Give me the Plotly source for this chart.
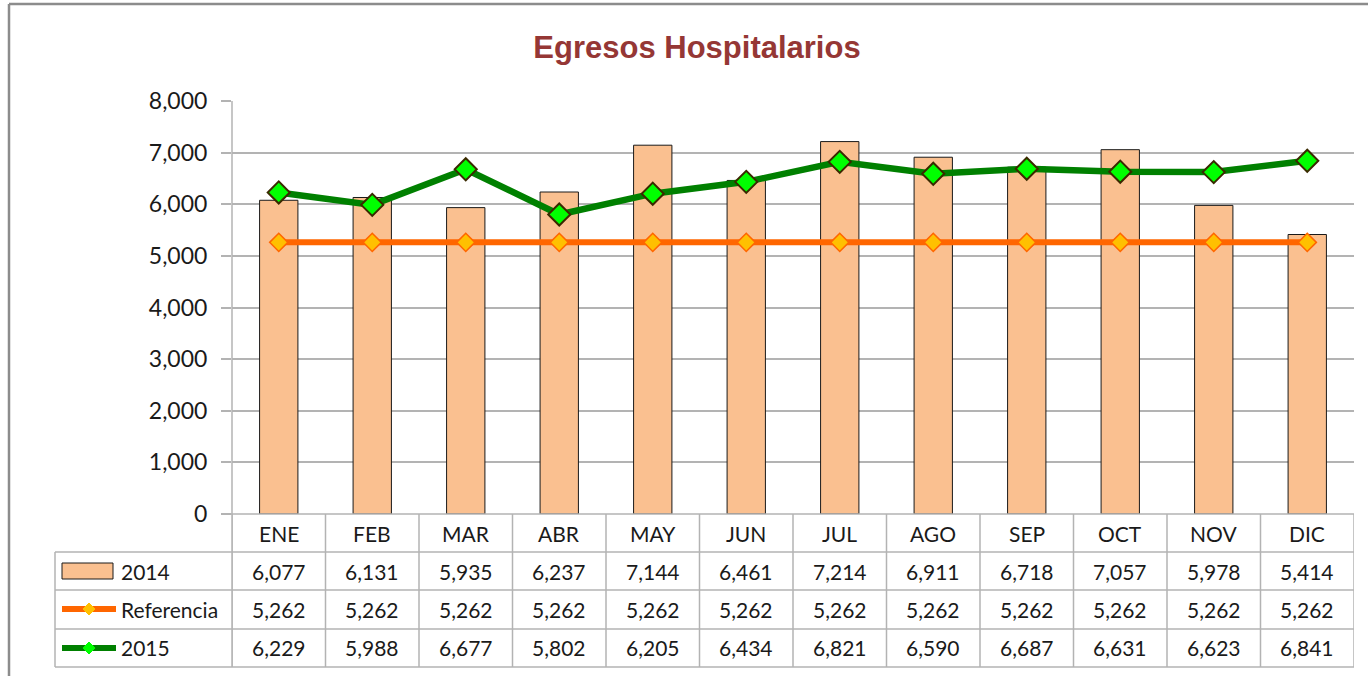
import plotly.graph_objects as go

months = ["ENE", "FEB", "MAR", "ABR", "MAY", "JUN", "JUL", "AGO", "SEP", "OCT", "NOV", "DIC"]
v2014 = [6077, 6131, 5935, 6237, 7144, 6461, 7214, 6911, 6718, 7057, 5978, 5414]
vref = [5262, 5262, 5262, 5262, 5262, 5262, 5262, 5262, 5262, 5262, 5262, 5262]
v2015 = [6229, 5988, 6677, 5802, 6205, 6434, 6821, 6590, 6687, 6631, 6623, 6841]
y_ticks = [0, 1000, 2000, 3000, 4000, 5000, 6000, 7000, 8000]
series_names = ["2014", "Referencia", "2015"]

W_FIG, H_FIG = 1368, 676
L, R, T, B = 232, 1354, 101, 514
PW, PH = R - L, B - T


def px(p):
    return (p - L) / PW


def py(p):
    return (B - p) / PH


FONT = "Lato, Calibri, Carlito, sans-serif"
GRID = "#b3b3b3"
TXT = "#1a1a1a"
BAR_FILL = "#FAC090"
ORANGE = "#FF6600"
GOLD = "#FFC000"
GREEN = "#008000"
LIME = "#00FF00"

fig = go.Figure()
fig.add_trace(go.Bar(x=months, y=v2014, name=series_names[0], width=0.41,
                     marker=dict(color=BAR_FILL, line=dict(color=TXT, width=1))))
fig.add_trace(go.Scatter(x=months, y=vref, name=series_names[1], mode="lines+markers",
                         line=dict(color=ORANGE, width=6),
                         marker=dict(symbol="diamond", size=14, color=GOLD,
                                     line=dict(color=ORANGE, width=1.5))))
fig.add_trace(go.Scatter(x=months, y=v2015, name=series_names[2], mode="lines+markers",
                         line=dict(color=GREEN, width=6.5),
                         marker=dict(symbol="diamond", size=17, color=LIME,
                                     line=dict(color="#3a2a00", width=2))))

shapes = []
annotations = []

# outer chart border
shapes.append(dict(type="line", xref="paper", yref="paper", x0=px(9), x1=px(1368), y0=py(4), y1=py(4),
                   line=dict(color="#8c8c8c", width=2.5)))
shapes.append(dict(type="line", xref="paper", yref="paper", x0=px(9), x1=px(9), y0=py(4), y1=py(676),
                   line=dict(color="#8c8c8c", width=2.5)))

# y axis line through the table
shapes.append(dict(type="line", xref="paper", yref="paper", x0=0, x1=0, y0=py(T), y1=py(667),
                   line=dict(color=GRID, width=1.5)))
# table horizontal lines
shapes.append(dict(type="line", xref="paper", yref="paper", x0=px(222), x1=1, y0=0, y1=0,
                   line=dict(color=GRID, width=1.5)))
for yy in [552, 590, 629, 667]:
    shapes.append(dict(type="line", xref="paper", yref="paper", x0=px(55), x1=1, y0=py(yy), y1=py(yy),
                       line=dict(color=GRID, width=1.5)))
# table vertical lines
shapes.append(dict(type="line", xref="paper", yref="paper", x0=px(55), x1=px(55), y0=py(552), y1=py(667),
                   line=dict(color=GRID, width=1.5)))
for i in range(len(months) + 1):
    shapes.append(dict(type="line", xref="x", yref="paper", x0=i - 0.5, x1=i - 0.5, y0=0, y1=py(667),
                       line=dict(color=GRID, width=1.5)))

# month headers and values
row_y = [571, 609, 647]
for i, m in enumerate(months):
    annotations.append(dict(x=m, xref="x", y=py(533), yref="paper", text=m, showarrow=False,
                            xanchor="center", yanchor="middle",
                            font=dict(family=FONT, size=21, color=TXT)))
    for vals, yy in zip([v2014, vref, v2015], row_y):
        annotations.append(dict(x=m, xref="x", y=py(yy), yref="paper", text=f"{vals[i]:,}",
                                showarrow=False, xanchor="center", yanchor="middle",
                                font=dict(family=FONT, size=21, color=TXT)))

# legend keys in table
shapes.append(dict(type="rect", xref="paper", yref="paper", x0=px(62), x1=px(113), y0=py(563), y1=py(579),
                   fillcolor=BAR_FILL, line=dict(color=TXT, width=1)))
for color, fill, yy in [(ORANGE, GOLD, 609), (GREEN, LIME, 648)]:
    shapes.append(dict(type="line", xref="paper", yref="paper", x0=px(62), x1=px(116), y0=py(yy), y1=py(yy),
                       line=dict(color=color, width=6)))
    cx, cy, r = 89, yy, 6
    path = (f"M {px(cx - r)} {py(cy)} L {px(cx)} {py(cy - r)} L {px(cx + r)} {py(cy)} "
            f"L {px(cx)} {py(cy + r)} Z")
    shapes.append(dict(type="path", xref="paper", yref="paper", path=path, fillcolor=fill,
                       line=dict(color=fill, width=1)))
for name, yy in zip(series_names, row_y):
    annotations.append(dict(x=px(119), xref="paper", y=py(yy), yref="paper", text=name, showarrow=False,
                            xanchor="left", yanchor="middle", font=dict(family=FONT, size=21, color=TXT)))

fig.update_layout(
    width=W_FIG, height=H_FIG,
    margin=dict(l=L, r=W_FIG - R, t=T, b=H_FIG - B, pad=0),
    paper_bgcolor="white", plot_bgcolor="white",
    showlegend=False, hovermode=False,
    title=dict(text="<b>Egresos Hospitalarios</b>", x=px(697), xref="paper", y=1 - 47 / H_FIG,
               yanchor="middle", xanchor="center",
               font=dict(family="Liberation Sans Narrow, Arial Narrow, Liberation Sans, sans-serif",
                         size=31, color="#953735")),
    bargap=0.59,
    xaxis=dict(showticklabels=False, showgrid=False, zeroline=False, showline=False, ticks="",
               range=[-0.5, 11.5], fixedrange=True),
    yaxis=dict(range=[0, 8000], tickvals=y_ticks, tickformat=",", showgrid=True, gridcolor=GRID, gridwidth=1.5,
               zeroline=False, showline=False, ticks="outside", ticklen=10, tickcolor=GRID, tickwidth=1.5,
               ticklabelstandoff=9,
               tickfont=dict(family=FONT, size=23, color=TXT), fixedrange=True),
    shapes=shapes, annotations=annotations,
)

fig.write_html("out.html", config={"displayModeBar": False},
               post_script="document.body.style.margin='0';document.body.style.padding='0';")
